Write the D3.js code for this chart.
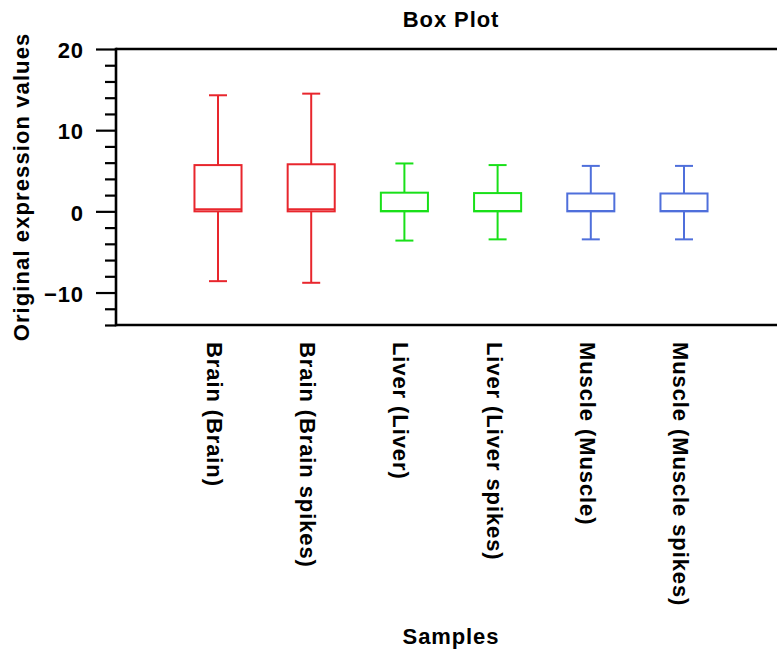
<!DOCTYPE html>
<html>
<head>
<meta charset="utf-8">
<script src="https://cdn.jsdelivr.net/npm/d3@7"></script>
<style>
  html, body { margin: 0; padding: 0; background: #fff; }
  svg { display: block; }
  text { font-family: "Liberation Sans", Arial, Helvetica, sans-serif; font-weight: bold; fill: #000; }
</style>
</head>
<body>
<svg id="chart" width="777" height="649"></svg>
<script>
// ---- data ----
const categories = ["Brain (Brain)", "Brain (Brain spikes)", "Liver (Liver)", "Liver (Liver spikes)", "Muscle (Muscle)", "Muscle (Muscle spikes)"];
const whiskerLow  = [-8.6, -8.8, -3.6, -3.45, -3.45, -3.45];
const q1          = [0.0, 0.0, 0.0, 0.0, 0.0, 0.0];
const medians     = [0.25, 0.25, 0.05, 0.05, 0.05, 0.05];
const q3          = [5.7, 5.8, 2.3, 2.25, 2.2, 2.2];
const whiskerHigh = [14.3, 14.5, 5.9, 5.7, 5.6, 5.6];
const groupColors = ["#e8262d", "#e8262d", "#19e019", "#19e019", "#4f6fdb", "#4f6fdb"];
const majorTicks = [-10, 0, 10, 20];
const minorTicks = [-14, -12, -8, -6, -4, -2, 2, 4, 6, 8, 12, 14, 16, 18];
const yDomain = [-14, 20];
const title = "Box Plot";
const xTitle = "Samples";
const yTitle = "Original expression values";

// ---- layout ----
const W = 777, H = 649;
const plotLeft = 116, plotRight = 777, plotTop = 49, plotBottom = 325;
const FS = "22px";
const LS = "0.9px";

const svg = d3.select("#chart");

const y = d3.scaleLinear().domain(yDomain).range([plotBottom, plotTop]);
const x = d3.scalePoint().domain(categories).range([218, 684]);
const step = x.step();
const boxW = step * 0.505;
const capW = 18;

// axis ticks
const major = svg.append("g").attr("transform", `translate(${plotLeft},0)`)
  .call(d3.axisLeft(y).tickValues(majorTicks).tickSize(20).tickPadding(12).tickFormat(d3.format("d")));
major.select(".domain").remove();
major.selectAll(".tick line").attr("stroke", "#000").attr("stroke-width", 2.2);
major.selectAll(".tick text")
  .style("font-size", FS).style("letter-spacing", LS)
  .attr("dy", "0.4em").attr("x", -32);

const minor = svg.append("g").attr("transform", `translate(${plotLeft},0)`)
  .call(d3.axisLeft(y).tickValues(minorTicks).tickSize(11).tickFormat(""));
minor.select(".domain").remove();
minor.selectAll(".tick line").attr("stroke", "#000").attr("stroke-width", 2.2);

// frame lines
svg.append("line").attr("x1", plotLeft).attr("x2", plotLeft).attr("y1", y(yDomain[1]) - 1.2).attr("y2", y(yDomain[0]) + 1.2)
  .attr("stroke", "#000").attr("stroke-width", 2.6);
svg.append("line").attr("x1", plotLeft).attr("x2", plotRight).attr("y1", y(yDomain[1])).attr("y2", y(yDomain[1]))
  .attr("stroke", "#000").attr("stroke-width", 2.6);
svg.append("line").attr("x1", plotLeft).attr("x2", plotRight).attr("y1", y(yDomain[0])).attr("y2", y(yDomain[0]))
  .attr("stroke", "#000").attr("stroke-width", 2.6);

// boxes
const data = categories.map((c, i) => ({
  c, lo: whiskerLow[i], q1: q1[i], med: medians[i], q3: q3[i], hi: whiskerHigh[i], color: groupColors[i]
}));

const g = svg.append("g").selectAll("g").data(data).join("g")
  .attr("stroke", d => d.color).attr("stroke-width", 2).attr("fill", "none");

// whiskers
g.append("line").attr("x1", d => x(d.c)).attr("x2", d => x(d.c)).attr("y1", d => y(d.hi)).attr("y2", d => y(d.q3));
g.append("line").attr("x1", d => x(d.c)).attr("x2", d => x(d.c)).attr("y1", d => y(d.q1)).attr("y2", d => y(d.lo));
g.append("line").attr("x1", d => x(d.c) - capW / 2).attr("x2", d => x(d.c) + capW / 2).attr("y1", d => y(d.hi)).attr("y2", d => y(d.hi));
g.append("line").attr("x1", d => x(d.c) - capW / 2).attr("x2", d => x(d.c) + capW / 2).attr("y1", d => y(d.lo)).attr("y2", d => y(d.lo));
// box
g.append("rect").attr("x", d => x(d.c) - boxW / 2).attr("width", boxW)
  .attr("y", d => y(d.q3)).attr("height", d => y(d.q1) - y(d.q3)).attr("fill", "#fff");
// median
g.append("line").attr("x1", d => x(d.c) - boxW / 2).attr("x2", d => x(d.c) + boxW / 2)
  .attr("y1", d => y(d.med)).attr("y2", d => y(d.med));

// x category labels
svg.append("g").selectAll("text").data(categories).join("text")
  .attr("transform", d => `translate(${x(d) - 11},342) rotate(90)`)
  .attr("text-anchor", "start")
  .style("font-size", FS).style("letter-spacing", LS)
  .text(d => d);

// titles
svg.append("text").attr("x", 451).attr("y", 27).attr("text-anchor", "middle")
  .style("font-size", FS).style("letter-spacing", LS).text(title);
svg.append("text").attr("x", 451).attr("y", 644).attr("text-anchor", "middle")
  .style("font-size", FS).style("letter-spacing", LS).text(xTitle);
svg.append("text").attr("transform", `translate(29,187) rotate(-90)`).attr("text-anchor", "middle")
  .style("font-size", FS).style("letter-spacing", "1.1px").text(yTitle);
</script>
</body>
</html>
